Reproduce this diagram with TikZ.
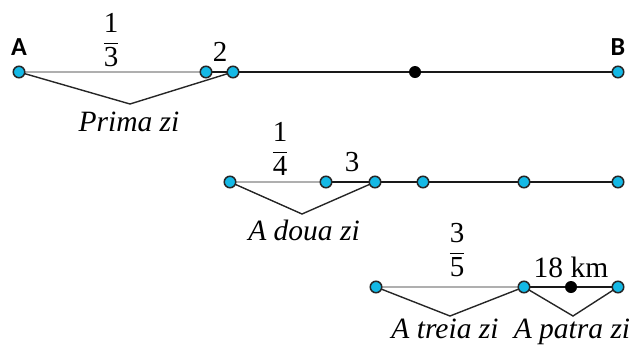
\documentclass[tikz,border=0pt]{standalone}
\usepackage{fontspec}
\setmainfont{Liberation Serif}
\newfontfamily\labfont{Carlito}
\definecolor{dotcyan}{RGB}{20,185,230}
\definecolor{seggray}{RGB}{175,175,175}
\definecolor{segdark}{RGB}{25,25,25}
\newcommand\myfr[2]{$\displaystyle\frac{\mbox{#1}}{\mbox{#2}}$}
\begin{document}
\begin{tikzpicture}[x=1pt,y=-1pt,
  cdot/.style={circle,draw=black!85,line width=1.5pt,fill=dotcyan,inner sep=0pt,minimum size=11.5pt},
  bdot/.style={circle,fill=black,inner sep=0pt,minimum size=12pt},
  grayseg/.style={draw=seggray,line width=2pt},
  darkseg/.style={draw=segdark,line width=2pt},
  brace/.style={draw=black!85,line width=1.4pt},
  txt/.style={inner sep=0pt,font=\fontsize{29}{34}\selectfont},
  itx/.style={inner sep=0pt,anchor=base,font=\fontsize{29.5}{34}\selectfont\itshape},
  endlab/.style={inner sep=0pt,font=\fontsize{26}{30}\selectfont\labfont\bfseries}]
\useasboundingbox (0,0) rectangle (632,349);
% line 1
\coordinate (A) at (19,72);
\coordinate (P1) at (206,72);
\coordinate (P2) at (233,72);
\coordinate (M1) at (415,72);
\coordinate (B) at (618,72);
\coordinate (V1) at (130,104);
\draw[grayseg] (A) -- (P1);
\draw[darkseg] (P1) -- (P2) -- (M1) -- (B);
\draw[brace] (A) -- (V1) -- (P2);
\node[cdot] (nA) at (A) {};
\node[cdot] (nP1) at (P1) {};
\node[cdot] (nP2) at (P2) {};
\node[bdot] (nM1) at (M1) {};
\node[cdot] (nB) at (B) {};
\node[endlab] (lA) at (19,47) {A};
\node[endlab] (lB) at (618,47) {B};
\node[txt] (f13) at (111,40) {\myfr{1}{3}};
\node[txt] (t2) at (220,52) {2};
\node[itx] (l1) at (129,131) {Prima zi};
% line 2
\coordinate (Q0) at (230,182);
\coordinate (Q1) at (326,182);
\coordinate (Q2) at (375,182);
\coordinate (Q3) at (423,182);
\coordinate (Q4) at (524,182);
\coordinate (Q5) at (618,182);
\coordinate (V2) at (302,214);
\draw[grayseg] (Q0) -- (Q1);
\draw[darkseg] (Q1) -- (Q2) -- (Q3) -- (Q4) -- (Q5);
\draw[brace] (Q0) -- (V2) -- (Q2);
\foreach \n in {Q0,Q1,Q2,Q3,Q4,Q5} \node[cdot] (n\n) at (\n) {};
\node[txt] (f14) at (280,149) {\myfr{1}{4}};
\node[txt] (t3) at (352,162) {3};
\node[itx] (l2) at (304,240) {A doua zi};
% line 3
\coordinate (R0) at (376,287);
\coordinate (R1) at (524,287);
\coordinate (M3) at (571,287);
\coordinate (R2) at (618,287);
\coordinate (V3) at (450,316);
\coordinate (V4) at (573,316);
\draw[grayseg] (R0) -- (R1);
\draw[darkseg] (R1) -- (M3) -- (R2);
\draw[brace] (R0) -- (V3) -- (R1) -- (V4) -- (R2);
\node[cdot] (nR0) at (R0) {};
\node[cdot] (nR1) at (R1) {};
\node[bdot] (nM3) at (M3) {};
\node[cdot] (nR2) at (R2) {};
\node[txt] (f35) at (457,250) {\myfr{3}{5}};
\node[itx] (t18) at (571,277) {\upshape 18 km};
\node[itx] (l3) at (445,338) {A treia zi};
\node[itx] (l4) at (572,338) {A patra zi};
\end{tikzpicture}
\end{document}
